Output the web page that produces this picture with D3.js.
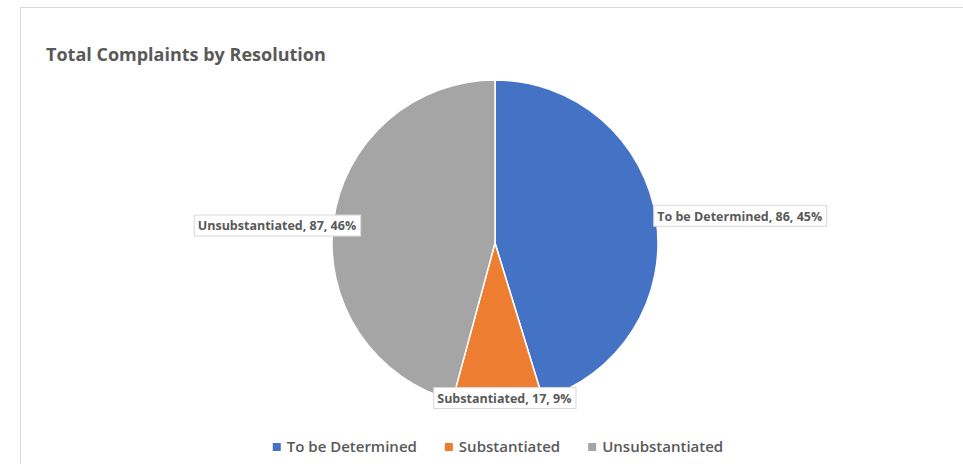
<!DOCTYPE html>
<html>
<head>
<meta charset="utf-8">
<script src="https://cdn.jsdelivr.net/npm/d3@7"></script>
<style>
  body { margin: 0; background: #fff; }
  svg { display: block; }
  text { font-family: "Open Sans", Lato, sans-serif; fill: #595959; }
</style>
</head>
<body>
<div id="chart"></div>
<script>
// resolution categories and complaint counts
const categories = ["To be Determined", "Substantiated", "Unsubstantiated"];
const counts = [86, 17, 87];
const colors = ["#4472C4", "#ED7D31", "#A5A5A5"];

// where each data label sits: radius from centre, text anchor, nudge up/down
const labelRadius = [160, 144, 136];
const labelAnchor = ["start", "middle", "end"];
const labelNudge = [-4, 0, 0];

const W = 963, H = 464;
const cx = 495, cy = 243, radius = 163;

const svg = d3.select("#chart").append("svg")
    .attr("width", W)
    .attr("height", H);

// chart area frame
svg.append("rect")
    .attr("x", 20.5).attr("y", 7.5)
    .attr("width", W + 10).attr("height", H + 10)
    .attr("fill", "#fff")
    .attr("stroke", "#d9d9d9");

svg.append("text")
    .attr("x", 46).attr("y", 61)
    .attr("font-size", 18)
    .attr("font-weight", 700)
    .text("Total Complaints by Resolution");

const total = d3.sum(counts);
const rows = categories.map((c, i) => ({name: c, value: counts[i], i: i}));

const pie = d3.pie().sort(null).value(d => d.value);
const arcs = pie(rows);

const arc = d3.arc().innerRadius(0).outerRadius(radius);

const g = svg.append("g").attr("transform", `translate(${cx},${cy})`);

g.selectAll("path.slice")
    .data(arcs)
    .join("path")
    .attr("class", "slice")
    .attr("d", arc)
    .attr("fill", d => colors[d.data.i])
    .attr("stroke", "#fff")
    .attr("stroke-width", 1.5);

// data labels: name, value, percent in a white boxed callout
const labels = g.selectAll("g.lbl")
    .data(arcs)
    .join("g")
    .attr("class", "lbl")
    .attr("transform", d => {
        const a = (d.startAngle + d.endAngle) / 2;
        const r = labelRadius[d.data.i];
        return `translate(${r * Math.sin(a)},${-r * Math.cos(a) + labelNudge[d.data.i]})`;
    });

labels.each(function(d) {
    const sel = d3.select(this);
    const t = sel.append("text")
        .attr("font-size", 12.5)
        .attr("font-weight", 700)
        .attr("dy", "0.35em")
        .text(`${d.data.name}, ${d.data.value}, ${Math.round(d.data.value / total * 100)}%`);
    const w = t.node().getComputedTextLength();
    const padX = 4, h = 21;
    const anchor = labelAnchor[d.data.i];
    let x0, y0 = -h / 2;
    if (anchor === "start") x0 = 0;
    else if (anchor === "end") x0 = -(w + 2 * padX);
    else x0 = -(w + 2 * padX) / 2 + 7;
    if (anchor === "middle") y0 = 0;
    sel.insert("rect", "text")
        .attr("x", x0 + 0.5).attr("y", y0 + 0.5)
        .attr("width", w + 2 * padX).attr("height", h)
        .attr("fill", "#fff")
        .attr("stroke", "#d9d9d9");
    t.attr("x", x0 + padX).attr("y", y0 + h / 2 + 1);
});

// legend along the bottom, centred under the pie
const legend = svg.append("g").attr("transform", "translate(0,447)");
const items = legend.selectAll("g")
    .data(rows)
    .join("g");
items.append("rect")
    .attr("width", 8).attr("height", 8)
    .attr("y", -4)
    .attr("fill", d => colors[d.i]);
items.append("text")
    .attr("x", 14)
    .attr("dy", "0.35em")
    .attr("font-size", 15)
    .attr("font-weight", 600)
    .text(d => d.name);

const gap = 28;
const widths = [];
items.each(function() { widths.push(this.getBBox().width); });
const legendW = d3.sum(widths) + gap * (widths.length - 1);
let lx = cx + 3 - legendW / 2;
items.attr("transform", (d, i) => {
    const x = lx;
    lx += widths[i] + gap;
    return `translate(${x},0)`;
});
</script>
</body>
</html>
